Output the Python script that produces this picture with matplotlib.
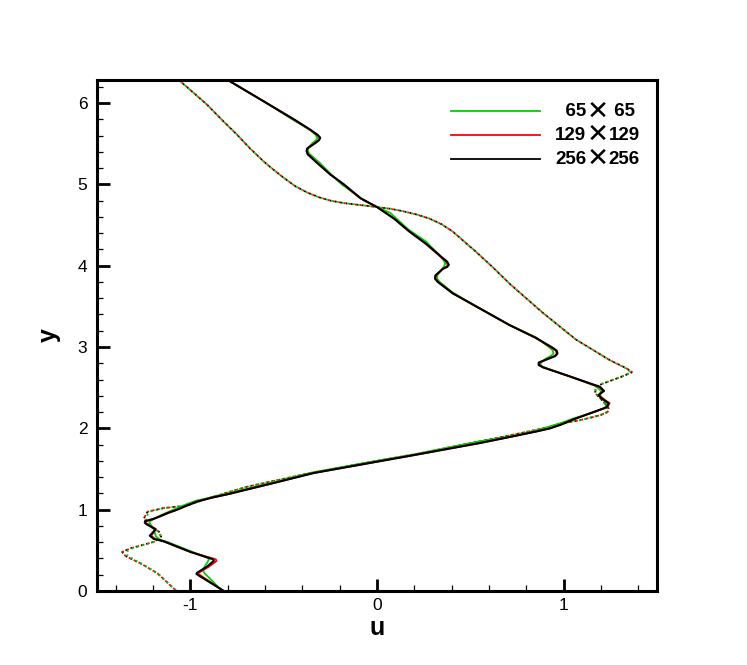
import numpy as np
import matplotlib
matplotlib.use("Agg")
import matplotlib.pyplot as plt
from matplotlib.lines import Line2D
from matplotlib.offsetbox import AnchoredOffsetbox, HPacker, VPacker, TextArea, DrawingArea

plt.rcParams['font.family'] = ['Liberation Sans', 'DejaVu Sans']

# solid lines: 256x256 grid
u_256 = [-0.80, -0.607, -0.446, -0.357, -0.32, -0.305, -0.31, -0.33, -0.375, -0.378,
         -0.372, -0.32, -0.25, -0.178, -0.089, 0.0, 0.09, 0.173, 0.262, 0.343,
         0.375, 0.384, 0.375, 0.352, 0.312, 0.310, 0.325, 0.405, 0.53, 0.709,
         0.852, 0.941, 0.962, 0.966, 0.955, 0.923, 0.866, 0.865, 0.888, 1.03,
         1.194, 1.216, 1.186, 1.20, 1.24, 1.23, 1.159, 1.052, 0.99, 0.927,
         0.85, 0.766, 0.66, 0.552, 0.195, 0.0, -0.341, -0.55, -0.80, -0.89,
         -0.964, -1.02, -1.071, -1.12, -1.161, -1.20, -1.241, -1.245, -1.235, -1.187,
         -1.205, -1.218, -1.196, -1.143, -1.0, -0.88, -0.875, -0.911, -0.964, -0.968,
         -0.955, -0.821]
y_256 = [6.283, 6.02, 5.80, 5.67, 5.61, 5.575, 5.545, 5.51, 5.44, 5.41,
         5.37, 5.26, 5.12, 5.00, 4.83, 4.72, 4.58, 4.42, 4.27, 4.11,
         4.05, 4.01, 3.985, 3.96, 3.88, 3.84, 3.80, 3.66, 3.50, 3.27,
         3.11, 2.99, 2.955, 2.92, 2.89, 2.86, 2.81, 2.78, 2.75, 2.64,
         2.51, 2.46, 2.41, 2.37, 2.31, 2.26, 2.20, 2.11, 2.05, 2.00,
         1.96, 1.92, 1.87, 1.82, 1.67, 1.59, 1.45, 1.33, 1.19, 1.145,
         1.10, 1.05, 1.00, 0.96, 0.92, 0.885, 0.86, 0.84, 0.82, 0.76,
         0.71, 0.68, 0.64, 0.61, 0.48, 0.39, 0.37, 0.30, 0.225, 0.21,
         0.19, 0.0]

# 129x129 grid
u_129 = [-0.80, -0.607, -0.448, -0.358, -0.32, -0.308, -0.313, -0.333, -0.373, -0.376,
         -0.370, -0.318, -0.25, -0.18, -0.09, 0.0, 0.09, 0.172, 0.26, 0.34,
         0.370, 0.378, 0.37, 0.35, 0.315, 0.313, 0.327, 0.405, 0.53, 0.709,
         0.852, 0.935, 0.957, 0.962, 0.952, 0.92, 0.87, 0.869, 0.89, 1.03,
         1.19, 1.21, 1.19, 1.205, 1.245, 1.235, 1.16, 1.05, 0.99, 0.925,
         0.85, 0.766, 0.66, 0.552, 0.195, 0.0, -0.341, -0.55, -0.80, -0.89,
         -0.964, -1.02, -1.07, -1.12, -1.16, -1.20, -1.235, -1.24, -1.23, -1.185,
         -1.20, -1.21, -1.19, -1.14, -1.0, -0.865, -0.86, -0.90, -0.955, -0.958,
         -0.945, -0.822]
y_129 = y_256

# 65x65 grid
u_65 = [-0.80, -0.607, -0.455, -0.36, -0.33, -0.32, -0.328, -0.345, -0.37, -0.37,
        -0.365, -0.31, -0.25, -0.19, -0.13, -0.07, 0.0, 0.07, 0.17, 0.26,
        0.33, 0.355, 0.365, 0.358, 0.345, 0.322, 0.322, 0.335, 0.405, 0.53,
        0.71, 0.85, 0.92, 0.94, 0.945, 0.93, 0.905, 0.875, 0.878, 0.895,
        1.03, 1.17, 1.20, 1.19, 1.215, 1.23, 1.22, 1.15, 1.05, 0.99,
        0.92, 0.85, 0.76, 0.66, 0.55, 0.2, 0.0, -0.34, -0.55, -0.80,
        -0.89, -0.97, -1.03, -1.07, -1.16, -1.215, -1.22, -1.215, -1.195, -1.19,
        -1.185, -1.16, -1.12, -1.0, -0.90, -0.905, -0.915, -0.935, -0.925, -0.83]
y_65 = [6.283, 6.02, 5.80, 5.67, 5.61, 5.57, 5.54, 5.51, 5.45, 5.41,
        5.38, 5.27, 5.13, 5.00, 4.90, 4.80, 4.72, 4.65, 4.44, 4.30,
        4.14, 4.07, 4.03, 3.99, 3.95, 3.88, 3.84, 3.80, 3.67, 3.50,
        3.27, 3.12, 3.00, 2.96, 2.92, 2.89, 2.86, 2.80, 2.77, 2.75,
        2.64, 2.52, 2.46, 2.41, 2.36, 2.30, 2.25, 2.19, 2.12, 2.07,
        2.02, 1.97, 1.92, 1.88, 1.84, 1.68, 1.60, 1.46, 1.34, 1.20,
        1.15, 1.11, 1.06, 1.02, 0.93, 0.86, 0.84, 0.82, 0.76, 0.71,
        0.67, 0.63, 0.60, 0.49, 0.40, 0.37, 0.33, 0.26, 0.22, 0.0]

# dotted lines (other state), nearly identical for all grids
du_256 = [-1.062, -0.911, -0.83, -0.75, -0.68, -0.607, -0.555, -0.50, -0.44, -0.375,
          -0.31, -0.25, -0.18, -0.107, -0.05, 0.0, 0.07, 0.138, 0.21, 0.28,
          0.345, 0.405, 0.46, 0.53, 0.62, 0.709, 0.888, 1.066, 1.245, 1.334,
          1.366, 1.316, 1.209, 1.170, 1.168, 1.212, 1.24, 1.235, 1.194, 1.087,
          0.99, 0.927, 0.85, 0.766, 0.66, 0.55, 0.2, 0.0, -0.34, -0.70,
          -0.92, -1.018, -1.143, -1.23, -1.25, -1.214, -1.169, -1.157, -1.187, -1.321,
          -1.366, -1.348, -1.268, -1.178, -1.075]
dy_256 = [6.283, 5.98, 5.79, 5.61, 5.44, 5.28, 5.18, 5.08, 4.98, 4.90,
          4.84, 4.80, 4.77, 4.75, 4.735, 4.72, 4.70, 4.67, 4.63, 4.58,
          4.51, 4.42, 4.31, 4.17, 3.98, 3.78, 3.42, 3.09, 2.84, 2.74,
          2.69, 2.64, 2.55, 2.51, 2.43, 2.33, 2.25, 2.20, 2.16, 2.10,
          2.06, 2.02, 1.98, 1.94, 1.89, 1.84, 1.68, 1.60, 1.46, 1.28,
          1.13, 1.05, 1.02, 0.975, 0.89, 0.79, 0.73, 0.67, 0.61, 0.525,
          0.48, 0.43, 0.34, 0.22, 0.0]
du_65 = [-1.062, -0.911, -0.83, -0.75, -0.68, -0.607, -0.555, -0.50, -0.44, -0.375,
         -0.31, -0.25, -0.18, -0.107, -0.05, 0.0, 0.07, 0.138, 0.21, 0.28,
         0.345, 0.405, 0.46, 0.53, 0.62, 0.709, 0.888, 1.066, 1.245, 1.33,
         1.36, 1.31, 1.205, 1.172, 1.172, 1.21, 1.235, 1.23, 1.19, 1.087,
         0.99, 0.927, 0.85, 0.766, 0.66, 0.55, 0.2, 0.0, -0.34, -0.70,
         -0.92, -1.018, -1.14, -1.22, -1.24, -1.21, -1.17, -1.16, -1.185, -1.31,
         -1.345, -1.335, -1.265, -1.178, -1.075]

legend_colors = ['#00d000', 'red', 'black']
legend_left = ['  65', '129', '256']
legend_right = [' 65', '129', '256']

fig = plt.figure(figsize=(7.47, 6.65), dpi=100)
ax = fig.add_axes([0.130, 0.1113, 0.7497, 0.7684])

ax.plot(du_256, dy_256, color='black', lw=1.3, ls=(0, (1, 2)))
ax.plot(du_256, dy_256, color='red', lw=1.3, ls=(1, (1, 2)))
ax.plot(du_65, dy_256, color='#00d000', lw=1.3, ls=(2, (1, 2)))

ax.plot(u_65, y_65, color='#00d000', lw=1.3)
ax.plot(u_129, y_129, color='red', lw=1.3)
ax.plot(u_256, y_256, color='black', lw=1.5)

ax.set_xlim(-1.5, 1.5)
ax.set_ylim(0, 2 * np.pi)
ax.set_xticks([-1, 0, 1])
ax.set_xticklabels(['-1', '0', '1'])
ax.set_yticks([0, 1, 2, 3, 4, 5, 6])
ax.set_xticks(np.arange(-1.4, 1.5, 0.2), minor=True)
ax.set_yticks(np.arange(0, 6.3, 0.2), minor=True)
ax.tick_params(which='major', direction='in', length=9, width=2, labelsize=12.5,
               top=False, right=False)
ax.tick_params(axis='x', which='major', pad=5)
ax.tick_params(axis='y', which='major', pad=7)
ax.tick_params(which='minor', direction='in', length=4.5, width=0.9,
               top=False, right=False)
for s in ax.spines.values():
    s.set_linewidth(2.2)

ax.set_xlabel('u', fontsize=18, fontweight='bold', labelpad=2)
ax.set_ylabel('y', fontsize=18, fontweight='bold', labelpad=12)

# legend with a large thin cross between the grid sizes
rows = []
tp = dict(fontsize=13.5, fontweight='bold')
for c, a, b in zip(legend_colors, legend_left, legend_right):
    da = DrawingArea(64, 12, 0, 0)
    da.add_artist(Line2D([0, 64], [6, 6], color=c, lw=1.3))
    txt = HPacker(children=[TextArea(a, textprops=tp),
                            TextArea('\u2715', textprops=dict(fontsize=19, family='DejaVu Sans')),
                            TextArea(b, textprops=tp)],
                  align='center', pad=0, sep=0)
    rows.append(HPacker(children=[da, txt], align='center', pad=0, sep=11))
box = VPacker(children=rows, align='left', pad=0, sep=-1.5)
leg = AnchoredOffsetbox(loc='upper left', child=box, pad=0, borderpad=0, frameon=False,
                        bbox_to_anchor=(0.632, 0.964), bbox_transform=ax.transAxes)
ax.add_artist(leg)

fig.savefig('out.png', dpi=100)
